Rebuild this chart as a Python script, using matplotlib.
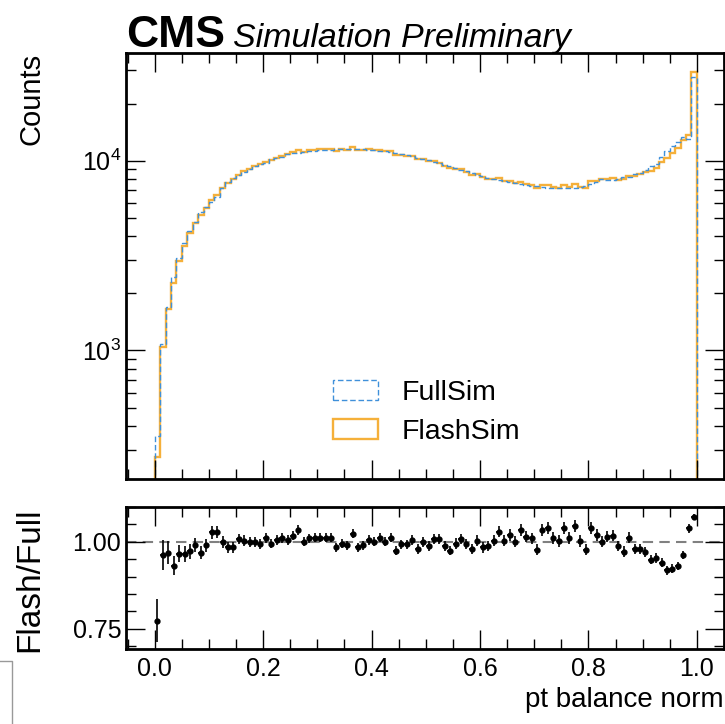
import numpy as np
import matplotlib
matplotlib.use('Agg')
import matplotlib.pyplot as plt
from matplotlib.patches import Rectangle
from matplotlib.lines import Line2D
from matplotlib.ticker import MultipleLocator, NullFormatter, LogLocator

plt.rcParams['font.family'] = ['Liberation Sans', 'DejaVu Sans']
plt.rcParams['mathtext.fontset'] = 'custom'
plt.rcParams['mathtext.rm'] = 'Liberation Sans'

# 100 bins on [0, 1]
bin_edges = np.linspace(0.0, 1.0, 101)

# FullSim counts per bin
fullsim_counts = [353, 1078, 1697, 2438, 3054, 3665, 4275, 4747, 5366, 5697,
                  6060, 6420, 7180, 7754, 8140, 8373, 8754, 9040, 9330, 9658,
                  9743, 10170, 10280, 10515, 10826, 10950, 11050, 11150, 11250, 11300,
                  11350, 11400, 11450, 11500, 11550, 11550, 11550, 11550, 11500, 11450,
                  11400, 11300, 11200, 11100, 11000, 10850, 10700, 10550, 10400, 10250,
                  10100, 9900, 9700, 9550, 9350, 9150, 8950, 8800, 8600, 8450,
                  8300, 8150, 8000, 7900, 7800, 7700, 7600, 7500, 7450, 7400,
                  7350, 7250, 7200, 7150, 7150, 7150, 7200, 7200, 7250, 7350,
                  7500, 7700, 8000, 7930, 7960, 8050, 8230, 8200, 8520, 8670,
                  8970, 9330, 9650, 10530, 11250, 11920, 12570, 13300, 13100, 27540]

# Flash/Full ratio per bin
flash_full_ratio = [0.773, 0.962, 0.969, 0.931, 0.966, 0.966, 0.973, 0.990, 0.969, 0.990,
                    1.028, 1.028, 1.000, 0.984, 0.984, 1.008, 1.003, 1.000, 1.000, 0.995,
                    1.010, 0.995, 1.005, 1.010, 1.005, 1.018, 1.034, 1.000, 1.010, 1.012,
                    1.012, 1.012, 1.012, 0.984, 0.995, 0.990, 1.023, 0.984, 0.990, 1.005,
                    1.000, 1.012, 1.000, 1.012, 0.975, 0.993, 0.993, 1.005, 0.980, 1.000,
                    0.988, 1.008, 1.008, 0.988, 0.975, 0.995, 1.008, 0.993, 0.980, 1.003,
                    0.984, 0.988, 1.003, 1.029, 1.003, 1.020, 1.000, 1.034, 1.015, 1.010,
                    0.977, 1.034, 1.040, 1.012, 1.003, 1.040, 1.010, 1.045, 1.003, 0.977,
                    1.040, 1.020, 1.000, 1.015, 1.018, 0.988, 0.972, 1.012, 0.980, 0.980,
                    0.970, 0.949, 0.953, 0.940, 0.918, 0.923, 0.931, 0.963, 1.039, 1.071]

full = np.array(fullsim_counts, dtype=float)
ratio = np.array(flash_full_ratio)
flash = full * ratio
centers = 0.5 * (bin_edges[1:] + bin_edges[:-1])
ratio_err = ratio * np.sqrt(1.0 / flash + 1.0 / full)

c_full = '#3f90da'
c_flash = '#f5b03a'

W, H = 725, 724
fig = plt.figure(figsize=(W / 100, H / 100), dpi=100)
ax = fig.add_axes([126 / W, 1 - 479 / H, 598 / W, 426 / H])
rax = fig.add_axes([126 / W, 1 - 649 / H, 598 / W, 142 / H], sharex=ax)

ax.stairs(flash, bin_edges, baseline=1, color=c_flash, lw=1.7)
ax.stairs(full, bin_edges, baseline=1, color=c_full, lw=1.0, ls=(0, (4, 2)))
ax.set_yscale('log')
ax.set_ylim(210, 37000)
ax.set_xlim(-0.053, 1.05)

h_full = Rectangle((0, 0), 1, 1, facecolor='none', edgecolor=c_full, lw=1.0, ls=(0, (4, 2)))
h_flash = Rectangle((0, 0), 1, 1, facecolor='none', edgecolor=c_flash, lw=1.7)
ax.legend([h_full, h_flash], ['FullSim', 'FlashSim'], loc='lower left',
          bbox_to_anchor=(0.303, 0.02), frameon=False, fontsize=20.5,
          handlelength=1.6, handleheight=0.7, handletextpad=0.8, labelspacing=0.45)

ax.set_ylabel('Counts', fontsize=21, loc='top')
ax.yaxis.set_label_coords(-0.135, 1.0)
plt.setp(ax.get_xticklabels(), visible=False)

rax.errorbar(centers, ratio, yerr=ratio_err, xerr=0.005, fmt='o', color='black',
             ms=3.5, lw=1.2, capsize=0)
rax.axhline(1.0, color='grey', ls=(0, (5, 3)), lw=1.5, zorder=0)
rax.set_ylim(0.692, 1.10)
rax.yaxis.set_minor_locator(MultipleLocator(0.05))
rax.set_yticks([0.75, 1.00])
rax.set_yticklabels(['0.75', '1.00'])
rax.set_ylabel('Flash/Full', fontsize=24, loc='top')
rax.yaxis.set_label_coords(-0.135, 1.0)
rax.set_xlabel('pt balance norm', fontsize=20, loc='right')

for a in (ax, rax):
    a.xaxis.set_major_locator(MultipleLocator(0.2))
    a.xaxis.set_minor_locator(MultipleLocator(0.05))
    a.tick_params(which='both', direction='in', top=True, right=True, labelsize=18)
    a.tick_params(which='major', length=14, width=1.0)
    a.tick_params(which='minor', length=7, width=1.0)
    for s in a.spines.values():
        s.set_linewidth(2.0)
ax.yaxis.set_major_locator(LogLocator(base=10))
ax.yaxis.set_minor_locator(LogLocator(base=10, subs=np.arange(2, 10)))
ax.yaxis.set_minor_formatter(NullFormatter())
rax.tick_params(axis='x', pad=6)

fig.text(126 / W, 1 - 47 / H, 'CMS', fontsize=32, fontweight='bold', ha='left', va='baseline')
fig.text(233 / W, 1 - 47 / H, 'Simulation Preliminary', fontsize=24.5, style='italic',
         ha='left', va='baseline')

# stray frame fragment in the bottom-left corner
fig.add_artist(Line2D([0, 12 / W, 12 / W], [1 - 661 / H, 1 - 661 / H, 0],
                      transform=fig.transFigure, color='#999999', lw=1.0))

fig.savefig('out.png', dpi=100)
